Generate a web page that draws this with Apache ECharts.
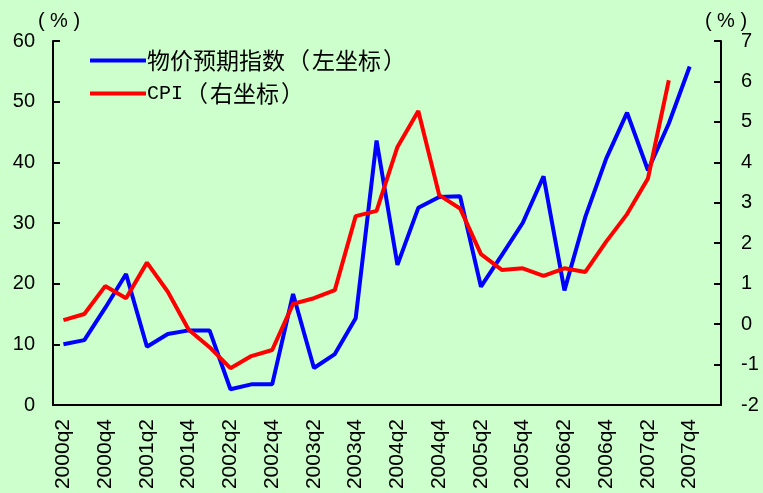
<!DOCTYPE html>
<html><head><meta charset="utf-8">
<script src="https://cdn.jsdelivr.net/npm/echarts@6/dist/echarts.min.js"></script>
<style>html,body{margin:0;padding:0;background:#CCFFCC}#c{width:763px;height:493px}</style>
</head><body><div id="c"></div>
<script>
const categories = ['2000q2','2000q3','2000q4','2001q1','2001q2','2001q3','2001q4','2002q1','2002q2','2002q3','2002q4','2003q1','2003q2','2003q3','2003q4','2004q1','2004q2','2004q3','2004q4','2005q1','2005q2','2005q3','2005q4','2006q1','2006q2','2006q3','2006q4','2007q1','2007q2','2007q3','2007q4','2008q1'];
const expectIndex = [10.0,10.7,16.0,21.6,9.6,11.7,12.3,12.3,2.6,3.4,3.4,18.3,6.1,8.4,14.3,43.6,23.1,32.5,34.3,34.4,19.5,24.7,30.0,37.7,18.9,31.0,40.6,48.2,38.7,46.4,55.8,null];
const cpi = [0.10,0.25,0.94,0.64,1.52,0.80,-0.14,-0.57,-1.09,-0.79,-0.64,0.50,0.64,0.84,2.67,2.80,4.38,5.27,3.19,2.86,1.73,1.34,1.38,1.19,1.38,1.29,2.04,2.72,3.60,6.03,null,null];
const seriesNames = ['物价预期指数（左坐标）','CPI（右坐标）'];

const chart = echarts.init(document.getElementById('c'));
const axisFont = {fontFamily:'Liberation Sans', fontSize:20, color:'#000'};
const cjk = 'Noto Sans CJK SC';
chart.setOption({
  backgroundColor:'#CCFFCC',
  animation:false,
  grid:{left:53, right:42, top:41, bottom:88},
  legend:{
    left:85, top:44, orient:'vertical', itemGap:10,
    itemWidth:56, itemHeight:22, icon:'path://M0,9L56,9L56,13L0,13Z',
    formatter:function(n){
      if(n===seriesNames[0]) return '{c|物价预期指数}{p|（}{c|左坐标}{p|）}';
      return '{m|CPI}{p|（}{c|右坐标}{p|）}';
    },
    textStyle:{fontFamily:cjk, fontSize:23, color:'#000', padding:[0,0,0,-4],
      rich:{
        c:{fontFamily:cjk, fontSize:23, color:'#000'},
        p:{fontFamily:cjk, fontSize:23, color:'#000', width:27, align:'center'},
        m:{fontFamily:'Liberation Mono', fontSize:20, color:'#000'}
      }},
    data:seriesNames
  },
  xAxis:{
    type:'category', data:categories, boundaryGap:true,
    axisLine:{lineStyle:{color:'#000', width:2}},
    axisTick:{inside:true, length:7, interval:0, lineStyle:{color:'#000', width:2}},
    axisLabel:Object.assign({rotate:90, interval:1, margin:14}, axisFont, {fontSize:21})
  },
  yAxis:[{
    type:'value', min:0, max:60, interval:10, position:'left',
    name:'( % )', nameLocation:'end', nameGap:5,
    nameTextStyle:{fontFamily:'Liberation Sans', fontSize:20, color:'#000', align:'center', padding:[0,0,0,12]},
    axisLine:{show:true, lineStyle:{color:'#000', width:2}},
    axisTick:{show:true, inside:true, length:7, lineStyle:{color:'#000', width:2}},
    axisLabel:Object.assign({margin:18}, axisFont),
    splitLine:{show:false}
  },{
    type:'value', min:-2, max:7, interval:1, position:'right',
    name:'( % )', nameLocation:'end', nameGap:5,
    nameTextStyle:{fontFamily:'Liberation Sans', fontSize:20, color:'#000', align:'center', padding:[0,0,0,10]},
    axisLine:{show:true, lineStyle:{color:'#000', width:2}},
    axisTick:{show:true, inside:true, length:7, lineStyle:{color:'#000', width:2}},
    axisLabel:Object.assign({margin:20}, axisFont),
    splitLine:{show:false}
  }],
  series:[{
    name:seriesNames[0], type:'line', yAxisIndex:0, data:expectIndex,
    symbol:'none', lineStyle:{color:'#0000FF', width:4}, itemStyle:{color:'#0000FF'}
  },{
    name:seriesNames[1], type:'line', yAxisIndex:1, data:cpi,
    symbol:'none', lineStyle:{color:'#FF0000', width:4}, itemStyle:{color:'#FF0000'}
  }]
});
</script></body></html>
